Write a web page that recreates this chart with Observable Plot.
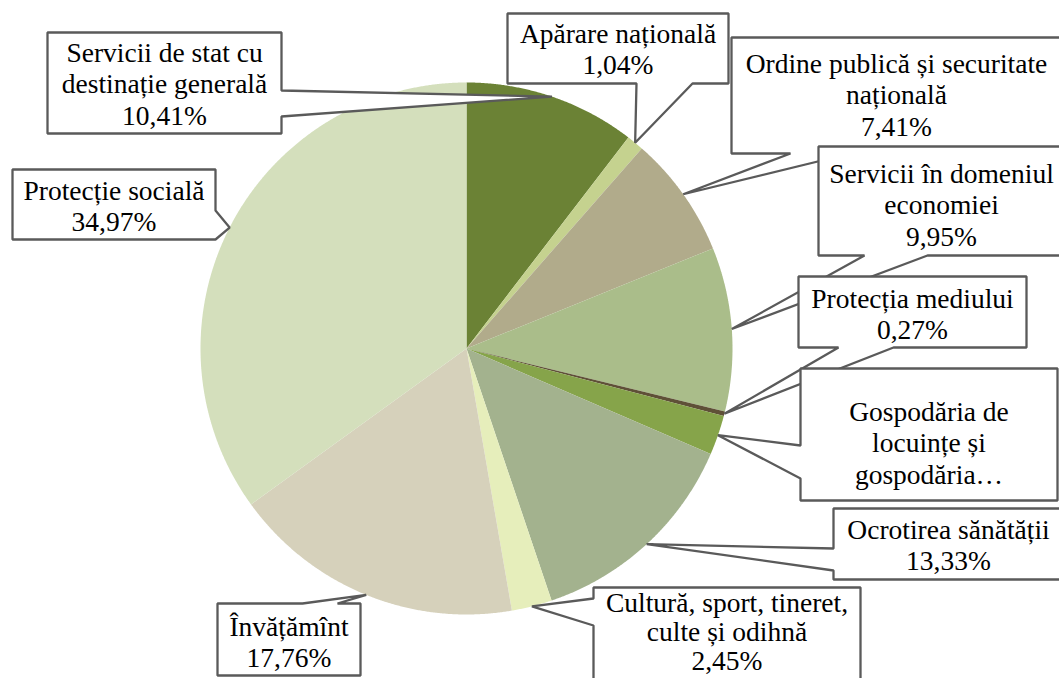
<!DOCTYPE html>
<html><head><meta charset="utf-8">
<script src="https://cdn.jsdelivr.net/npm/d3@7"></script>
<script src="https://cdn.jsdelivr.net/npm/@observablehq/plot@0.6"></script>
<style>body{margin:0;background:#fff}</style>
</head><body><div id="chart"></div>
<script>
// ---- data ----
const categories = [
  "Servicii de stat cu destinație generală",
  "Apărare națională",
  "Ordine publică și securitate națională",
  "Servicii în domeniul economiei",
  "Protecția mediului",
  "Gospodăria de locuințe și gospodăria comunală",
  "Ocrotirea sănătății",
  "Cultură, sport, tineret, culte și odihnă",
  "Învățămînt",
  "Protecție socială"
];
const values = [10.41, 1.04, 7.41, 9.95, 0.27, 2.41, 13.33, 2.45, 17.76, 34.97];
const labelLines = [
  ["Servicii de stat cu", "destinație generală"],
  ["Apărare națională"],
  ["Ordine publică și securitate", "națională"],
  ["Servicii în domeniul", "economiei"],
  ["Protecția mediului"],
  ["Gospodăria de", "locuințe și", "gospodăria…"],
  ["Ocrotirea sănătății"],
  ["Cultură, sport, tineret,", "culte și odihnă"],
  ["Învățămînt"],
  ["Protecție socială"]
];
const showValue = [true, true, true, true, true, false, true, true, true, true];
const colors = ["#6b8235", "#c5d28f", "#b1ab8b", "#aabd8a", "#5f5037", "#86a44a", "#a3b28e", "#e6eebb", "#d6d1bb", "#d4dfbc"];

// ---- layout (pixels) ----
const W = 1059, H = 678;
const pie = {cx: 466, cy: 348, r: 266};
const layout = [
  {box: [47, 32, 281, 133], side: "right", base: [90, 116], y0: 61},
  {box: [507, 13, 728, 83], side: "bottom", base: [636, 692], y0: 42},
  {box: [731, 37, 1061, 153], side: "bottom", base: [790, 850], y0: 72},
  {box: [818, 146, 1064, 255], side: "bottom", base: [864, 927], y0: 182},
  {box: [798, 276, 1026, 347], side: "bottom", base: [838, 893], y0: 307},
  {box: [800, 368, 1057, 500], side: "left", base: [445, 478], y0: 420},
  {box: [833, 508, 1063, 579], side: "left", base: [548, 570], y0: 538},
  {box: [593, 587, 860, 700], side: "left", base: [598, 625], y0: 611, lh: 29},
  {box: [217, 603, 360, 675], side: "top", base: [302, 337], y0: 635},
  {box: [12, 169, 215, 239], side: "right", base: [210, 239], y0: 199}
];
const lineH = 31.5;

// ---- geometry ----
const arcs = d3.pie().sort(null).value(d => d)(values);
const pt = (a, rr) => ({x: pie.cx + rr * Math.sin(a), y: pie.cy - rr * Math.cos(a)});

const slicePts = [];
arcs.forEach((a, i) => {
  slicePts.push({key: i, fill: colors[i], ...pt(0, 0)});
  const n = Math.max(2, Math.ceil((a.endAngle - a.startAngle) / (Math.PI / 720)));
  for (let k = 0; k <= n; k++) {
    const t = a.startAngle + (a.endAngle - a.startAngle) * k / n;
    slicePts.push({key: i, fill: colors[i], ...pt(t, pie.r)});
  }
});

const calloutPts = [];
const textRows = [];
layout.forEach((L, i) => {
  const a = arcs[i];
  const tip = pt((a.startAngle + a.endAngle) / 2, pie.r);
  const [x1, y1, x2, y2] = L.box;
  const [b1, b2] = L.base;
  let poly;
  if (L.side === "right") poly = [[x1, y1], [x2, y1], [x2, b1], [tip.x, tip.y], [x2, b2], [x2, y2], [x1, y2]];
  else if (L.side === "left") poly = [[x1, y1], [x2, y1], [x2, y2], [x1, y2], [x1, b2], [tip.x, tip.y], [x1, b1]];
  else if (L.side === "bottom") poly = [[x1, y1], [x2, y1], [x2, y2], [b2, y2], [tip.x, tip.y], [b1, y2], [x1, y2]];
  else poly = [[x1, y1], [b1, y1], [tip.x, tip.y], [b2, y1], [x2, y1], [x2, y2], [x1, y2]];
  poly.forEach(([x, y]) => calloutPts.push({key: i, x, y}));
  const lines = labelLines[i].slice();
  if (showValue[i]) lines.push(values[i].toFixed(2).replace(".", ",") + "%");
  const xc = (x1 + x2) / 2;
  const lh = L.lh || lineH;
  lines.forEach((t, k) => textRows.push({x: xc, y: L.y0 + k * lh, t}));
});

const chart = Plot.plot({
  width: W, height: H, margin: 0,
  x: {domain: [0, W], range: [0, W], axis: null},
  y: {domain: [0, H], range: [0, H], axis: null},
  color: {type: "identity"},
  style: {fontFamily: "'Liberation Serif', serif", background: "#fff", overflow: "hidden"},
  marks: [
    Plot.line(slicePts, {x: "x", y: "y", z: "key", fill: "fill", stroke: "none", curve: "linear-closed"}),
    Plot.line(calloutPts, {x: "x", y: "y", z: "key", fill: "white", stroke: "#5a5a5a", strokeWidth: 2.3, strokeLinejoin: "miter", curve: "linear-closed"}),
    Plot.text(textRows, {x: "x", y: "y", text: "t", fontSize: 27.5, fill: "#000", textAnchor: "middle", lineAnchor: "bottom"})
  ]
});
document.getElementById("chart").append(chart);
</script>
</body></html>
